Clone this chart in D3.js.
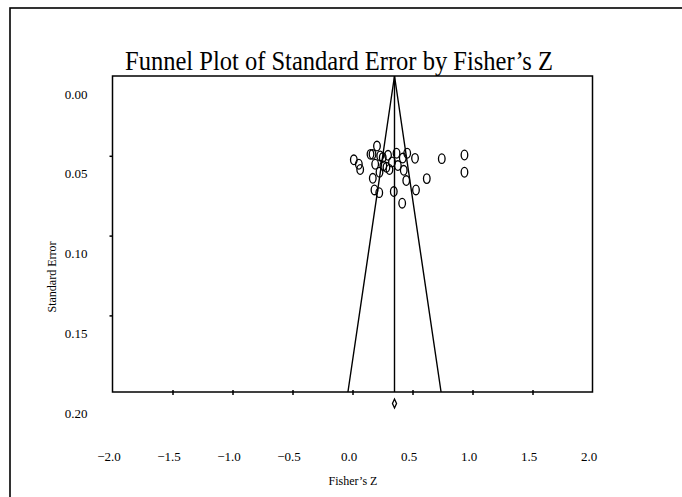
<html>
<head>
<meta charset="utf-8">
<script src="https://d3js.org/d3.v7.min.js"></script>
<style>
body { margin: 0; background: #fff; font-family: 'Liberation Serif', 'Times New Roman', serif; }
svg { display: block; }
</style>
</head>
<body>
<div id="chart"></div>
<script>
// study values: Fisher's Z and its standard error
var fisherZ = [0.204, 0.150, 0.167, 0.231, 0.296, 0.252, 0.367, 0.419, 0.456, 0.521,
               0.744, 0.933, 0.011, 0.053, 0.064, 0.189, 0.257, 0.283, 0.308, 0.329,
               0.378, 0.427, 0.225, 0.933, 0.169, 0.448, 0.619, 0.183, 0.223, 0.344,
               0.529, 0.414];
var stdErr = [0.0439, 0.0491, 0.0491, 0.0501, 0.0497, 0.0511, 0.0484, 0.0514, 0.0484, 0.0516,
              0.0518, 0.0495, 0.0525, 0.0553, 0.0586, 0.0553, 0.0563, 0.0572, 0.0586, 0.0539,
              0.0561, 0.0591, 0.0603, 0.0603, 0.0641, 0.0655, 0.0643, 0.0714, 0.0731, 0.0724,
              0.0714, 0.0797];

var meanZ = 0.35;
var diamond = [0.333, 0.35, 0.367];   // lower, estimate, upper
var xTicks = [-2, -1.5, -1, -0.5, 0, 0.5, 1, 1.5, 2];
var yTicks = [0, 0.05, 0.10, 0.15, 0.20];
var seMax = 0.198;

var W = 682, H = 497;
var svg = d3.select("#chart").append("svg").attr("width", W).attr("height", H);

// outer frame, runs off the page on the right and bottom
svg.append("rect")
  .attr("x", 10).attr("y", 8).attr("width", 720).attr("height", 560)
  .attr("fill", "none").attr("stroke", "#000").attr("stroke-width", 1.6);

var pLeft = 112.5, pRight = 592.5, pTop = 76, pBottom = 392;

var x = d3.scaleLinear().domain([-2, 2]).range([pLeft, pRight]);
var y = d3.scaleLinear().domain([0, seMax]).range([pTop, pBottom]);

svg.append("text")
  .attr("x", 339).attr("y", 70)
  .attr("text-anchor", "middle")
  .attr("textLength", 428).attr("lengthAdjust", "spacingAndGlyphs")
  .style("font-size", "27px")
  .text("Funnel Plot of Standard Error by Fisher\u2019s Z");

// plot box
svg.append("rect")
  .attr("x", pLeft).attr("y", pTop).attr("width", pRight - pLeft).attr("height", pBottom - pTop)
  .attr("fill", "none").attr("stroke", "#000").attr("stroke-width", 1.5);

// x axis
var xa = svg.append("g")
  .attr("transform", "translate(0," + pBottom + ")")
  .call(d3.axisBottom(x).tickValues(xTicks).tickSize(3).tickFormat(d3.format(".1f")));
xa.select(".domain").remove();
xa.selectAll(".tick line").attr("y1", -2).attr("stroke-width", 1.5)
  .filter(function(d) { return d === -2 || d === 2; }).remove();
xa.selectAll(".tick text")
  .attr("y", 69).attr("dy", null).attr("dx", -4)
  .style("font-size", "13px").style("font-family", "'Liberation Serif', serif").attr("fill", "#000");

// y axis
var ya = svg.append("g")
  .attr("transform", "translate(" + pLeft + ",0)")
  .call(d3.axisLeft(y).tickValues(yTicks).tickSize(3).tickFormat(d3.format(".2f")));
ya.select(".domain").remove();
ya.selectAll(".tick line").attr("stroke-width", 1.5)
  .filter(function(d) { return d === 0 || d > seMax; }).remove();
ya.selectAll(".tick text")
  .attr("x", -25).attr("dy", "1.7em")
  .style("font-size", "13px").style("font-family", "'Liberation Serif', serif").attr("fill", "#000");

svg.append("text")
  .attr("x", 353).attr("y", 485).attr("text-anchor", "middle")
  .style("font-size", "12px").text("Fisher\u2019s Z");

svg.append("text")
  .attr("transform", "translate(56,277) rotate(-90)")
  .attr("text-anchor", "middle")
  .style("font-size", "12px").text("Standard Error");

// funnel and mean line
var funnel = [[meanZ - 1.96 * seMax, seMax], [meanZ, 0], [meanZ + 1.96 * seMax, seMax]];
svg.append("path")
  .attr("d", d3.line().x(function(d) { return x(d[0]); }).y(function(d) { return y(d[1]); })(funnel))
  .attr("fill", "none").attr("stroke", "#000").attr("stroke-width", 1.4);
svg.append("line")
  .attr("x1", x(meanZ)).attr("x2", x(meanZ)).attr("y1", y(0)).attr("y2", y(seMax))
  .attr("stroke", "#000").attr("stroke-width", 1.4);

// studies
svg.selectAll(".study")
  .data(fisherZ)
  .enter().append("ellipse")
  .attr("class", "study")
  .attr("cx", function(d) { return x(d); })
  .attr("cy", function(d, i) { return y(stdErr[i]); })
  .attr("rx", 3.3).attr("ry", 4.8)
  .attr("fill", "none").attr("stroke", "#000").attr("stroke-width", 1.3);

// summary diamond under the axis
var dy0 = pBottom + 11.5;
svg.append("polygon")
  .attr("points", [[x(diamond[0]), dy0], [x(diamond[1]), dy0 - 4.5], [x(diamond[2]), dy0], [x(diamond[1]), dy0 + 4.5]]
    .map(function(p) { return p.join(","); }).join(" "))
  .attr("fill", "none").attr("stroke", "#000").attr("stroke-width", 1.3);
</script>
</body>
</html>
